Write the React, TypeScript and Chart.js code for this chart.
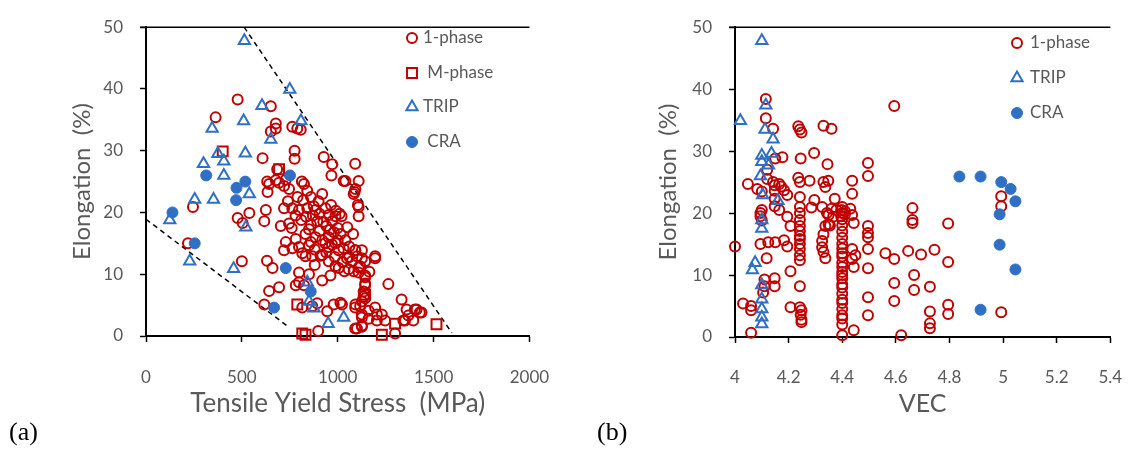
import React, { useEffect, useRef } from 'react';
import { Chart, registerables } from 'chart.js';

Chart.register(...registerables);

const RED = '#C00000';
const BLUE = '#2F6FC4';
const GRAY = '#595959';
const FONT = 'Lato, "Open Sans", sans-serif';

// ---------- Panel (a): Elongation vs Tensile Yield Stress ----------
const aXMin = 0;
const aXMax = 2000;
const aXStep = 500;
const elongMin = 0;
const elongMax = 50;
const elongStep = 10;

const aOnePhase: [number, number][] = [
  [478, 38.3], [651, 37.2], [363, 35.4], [677, 34.4], [677, 33.6], [651, 33.1], [763, 33.9], [789, 33.6], [807, 33.4],
  [775, 30.0], [775, 28.7], [608, 28.8], [927, 29.0], [971, 27.8], [1091, 27.9], [967, 26.0], [684, 27.0], [632, 25.0],
  [677, 25.2], [729, 25.3], [813, 25.0], [1040, 25.1], [1109, 25.1], [1088, 23.3], [1105, 21.2], [1109, 19.4], [642, 24.6],
  [634, 23.3], [694, 24.8], [720, 24.3], [746, 23.8], [824, 24.6], [841, 23.5], [919, 23.0],
  [245, 20.9], [219, 15.0], [478, 19.1], [504, 18.3], [539, 19.9], [625, 20.4], [617, 18.6], [703, 17.8], [746, 18.2],
  [500, 12.1], [631, 12.2], [660, 11.0], [642, 7.3], [694, 7.9], [617, 5.1],
  [798, 10.3], [850, 10.0], [798, 8.7], [824, 8.2], [781, 8.2], [893, 5.3], [867, 4.8], [815, 4.6], [945, 4.0], [979, 5.1], [898, 0.8],
  [720, 20.7], [763, 20.7], [798, 20.4], [841, 20.7], [884, 20.4], [936, 20.7], [953, 19.6], [988, 19.4], [971, 18.6], [893, 18.6],
  [850, 17.3], [832, 16.5], [781, 15.7], [729, 15.2], [720, 13.9], [763, 14.2], [798, 14.4], [815, 13.4], [850, 14.7], [884, 16.0],
  [919, 15.5], [953, 16.0], [953, 14.4], [988, 15.0], [1040, 15.5], [1005, 13.9], [919, 13.1], [867, 12.9], [832, 12.9], [1091, 13.9],
  [1100, 12.9], [1126, 13.9], [1143, 12.1], [1195, 12.9], [1074, 12.1], [1048, 12.6], [1109, 11.1], [1057, 10.8], [1109, 10.3],
  [953, 12.1], [988, 11.3], [962, 9.8], [919, 9.0], [1143, 9.5], [1143, 8.5], [1135, 7.2], [1264, 8.4], [1143, 6.1], [1126, 5.6],
  [1091, 4.6], [1126, 3.5], [1161, 4.1], [1195, 4.6], [1230, 3.5], [1333, 5.9], [1359, 4.3], [1402, 4.3], [1428, 3.8], [1368, 3.3],
  [1342, 2.5], [1247, 2.5], [1204, 2.5], [1161, 2.8], [1126, 1.5], [1091, 1.2], [1014, 5.4], [1109, 20.9],
  [1022, 5.1], [1092, 5.1], [1117, 4.8], [1204, 3.5], [1126, 3.0], [1100, 1.2], [1126, 1.7], [1411, 4.3], [1437, 3.8], [1351, 2.5],
  [1394, 2.5], [1143, 9.8], [1143, 8.2], [1135, 6.4], [1195, 12.6], [1126, 12.6], [1117, 11.3], [1092, 13.9], [1083, 10.5],
  [1083, 23.0], [1092, 23.8], [1031, 25.1], [1299, 0.4],
  [870, 19.5], [905, 19.8], [925, 18.5], [940, 17.8], [960, 17.2], [980, 16.8], [1000, 17.5], [1010, 19.8], [1020, 19.4], [990, 20.3],
  [965, 21.2], [900, 21.8], [875, 21.0], [860, 18.0], [905, 17.0], [935, 15.0], [970, 14.8], [1000, 15.5], [1030, 14.2], [1015, 16.5],
  [1060, 14.5], [1050, 17.6], [1080, 16.5], [880, 14.0], [910, 13.0], [940, 13.5], [985, 12.8], [1025, 12.0], [780, 19.5], [760, 17.5],
  [740, 21.8], [790, 22.5], [820, 22.0], [860, 22.5], [810, 18.8], [835, 19.3], [860, 15.2], [1060, 12.8], [1005, 11.0], [1035, 10.5],
  [1165, 10.4], [880, 11.5],
];

const aMPhase: [number, number][] = [
  [400, 29.9], [694, 27.0], [789, 5.1], [815, 0.4], [832, 0.2], [1143, 6.7], [1230, 0.2], [1299, 2.0], [1515, 1.9],
];

const aTRIP: [number, number][] = [
  [513, 47.8], [750, 39.9], [605, 37.3], [509, 34.8], [808, 34.8], [345, 33.6], [651, 31.8], [375, 29.5], [406, 28.3],
  [518, 29.6], [300, 27.9], [406, 26.0], [539, 23.0], [254, 22.1], [352, 22.1], [124, 18.8], [521, 17.6], [228, 12.1],
  [457, 10.9], [841, 8.7], [850, 5.6], [876, 4.5], [950, 2.0], [1031, 3.0],
];

const aCRA: [number, number][] = [
  [138, 20.0], [254, 15.0], [314, 26.0], [518, 25.0], [472, 24.0], [470, 22.0], [751, 26.0], [729, 11.0], [668, 4.6], [859, 7.2],
];

const aUpperBound: [number, number][] = [[512, 50], [1595, 0.5]];
const aLowerBound: [number, number][] = [[0, 18.9], [746, 1.4]];

// ---------- Panel (b): Elongation vs VEC ----------
const bXMin = 4;
const bXMax = 5.4;
const bXStep = 0.2;

const bOnePhase: [number, number][] = [
  [4.0, 14.6], [4.048, 24.7], [4.083, 23.9], [4.03, 5.4], [4.06, 5.0], [4.06, 4.3], [4.06, 0.7],
  [4.115, 38.4], [4.115, 35.3], [4.12, 27.0], [4.095, 20.0], [4.095, 19.5], [4.1, 20.5], [4.1, 23.5], [4.095, 15.0],
  [4.118, 12.7], [4.11, 9.3], [4.11, 8.2], [4.105, 7.2], [4.12, 25.5], [4.1, 18.8],
  [4.142, 33.6], [4.177, 29.0], [4.15, 28.8], [4.142, 25.0], [4.148, 24.5], [4.165, 24.7], [4.172, 24.3], [4.183, 23.7],
  [4.195, 22.9], [4.148, 23.6], [4.148, 22.3], [4.148, 21.1], [4.195, 19.4], [4.207, 17.9], [4.124, 15.3], [4.15, 15.3],
  [4.183, 15.6], [4.195, 14.6], [4.148, 9.5], [4.148, 8.2], [4.207, 10.6], [4.207, 4.8], [4.165, 20.5],
  [4.236, 34.0], [4.242, 33.5], [4.248, 33.0], [4.245, 28.8], [4.236, 25.7], [4.242, 25.0], [4.242, 22.6], [4.242, 21.0],
  [4.242, 20.0], [4.242, 18.9], [4.242, 17.9], [4.242, 17.1], [4.242, 16.3], [4.242, 15.8], [4.242, 15.0], [4.242, 14.2],
  [4.242, 13.2], [4.242, 12.4], [4.242, 8.2], [4.242, 4.8], [4.248, 4.3], [4.248, 2.8], [4.248, 2.4], [4.245, 3.6],
  [4.278, 25.2], [4.295, 29.7], [4.296, 22.1], [4.285, 20.9],
  [4.33, 34.1], [4.36, 33.6], [4.345, 27.9], [4.33, 25.0], [4.348, 25.2], [4.337, 24.2], [4.325, 21.0], [4.343, 20.0],
  [4.36, 20.7], [4.366, 19.4], [4.349, 19.7], [4.372, 22.3], [4.354, 18.0], [4.337, 17.9], [4.33, 16.6], [4.325, 15.5],
  [4.325, 14.5], [4.33, 13.7], [4.337, 12.7], [4.349, 18.2], [4.378, 20.5],
  [4.4, 21.0], [4.397, 20.5], [4.4, 20.0], [4.396, 19.5], [4.4, 19.0], [4.4, 18.0], [4.4, 17.0], [4.4, 16.0], [4.4, 15.0],
  [4.4, 14.3], [4.4, 13.5], [4.4, 13.0], [4.4, 12.0], [4.4, 11.3], [4.4, 10.5], [4.4, 10.0], [4.4, 9.5], [4.4, 8.5],
  [4.4, 8.0], [4.4, 7.0], [4.4, 6.0], [4.4, 5.5], [4.4, 4.5], [4.4, 3.5], [4.4, 3.0], [4.4, 2.0], [4.4, 0.3], [4.41, 19.8], [4.41, 20.3],
  [4.43, 20.7], [4.437, 19.7], [4.443, 18.4], [4.437, 25.2], [4.437, 23.1], [4.437, 14.2], [4.437, 12.6], [4.443, 11.3],
  [4.443, 1.1], [4.449, 13.2],
  [4.496, 28.1], [4.496, 26.0], [4.496, 17.9], [4.496, 16.8], [4.496, 16.1], [4.496, 14.2], [4.496, 11.1], [4.496, 6.4], [4.496, 3.5],
  [4.594, 37.3], [4.561, 13.5], [4.594, 12.6], [4.594, 8.7], [4.594, 5.8], [4.62, 0.3],
  [4.646, 13.9], [4.662, 20.8], [4.662, 18.9], [4.662, 18.4], [4.668, 10.0], [4.668, 7.6], [4.694, 13.3],
  [4.727, 8.1], [4.744, 14.1], [4.727, 4.1], [4.727, 2.2], [4.727, 1.4],
  [4.795, 18.3], [4.795, 12.1], [4.795, 5.2], [4.795, 3.7],
  [4.993, 22.7], [4.993, 21.1], [4.993, 4.0],
];

const bTRIP: [number, number][] = [
  [4.1, 47.8], [4.115, 37.4], [4.02, 34.9], [4.112, 33.5], [4.142, 31.9], [4.1, 29.3], [4.136, 29.6], [4.1, 28.3],
  [4.125, 27.7], [4.095, 26.0], [4.103, 22.9], [4.16, 22.0], [4.1, 18.9], [4.1, 17.5], [4.065, 10.8], [4.075, 12.0],
  [4.1, 8.4], [4.1, 6.1], [4.1, 4.5], [4.1, 3.2], [4.1, 2.1],
];

const bCRA: [number, number][] = [
  [4.837, 25.9], [4.916, 25.9], [4.993, 25.0], [5.028, 23.9], [5.046, 21.9], [4.987, 19.8], [4.987, 14.9], [5.046, 10.9], [4.916, 4.4],
];

const titleYieldX = 'Tensile Yield Stress  (MPa)';
const titleVEC = 'VEC';
const titleElong = 'Elongation  (%)';

type LegendItem = { label: string; style: 'circle' | 'rect' | 'triangle' | 'dot' };
const aLegend: LegendItem[] = [
  { label: '1-phase', style: 'circle' },
  { label: ' M-phase', style: 'rect' },
  { label: 'TRIP', style: 'triangle' },
  { label: ' CRA', style: 'dot' },
];
const bLegend: LegendItem[] = [
  { label: '1-phase', style: 'circle' },
  { label: 'TRIP', style: 'triangle' },
  { label: 'CRA', style: 'dot' },
];

const toPts = (arr: [number, number][]) => arr.map(([x, y]) => ({ x, y }));

const seriesStyles = {
  circle: { pointStyle: 'circle', pointRadius: 5, borderWidth: 2, borderColor: RED, backgroundColor: 'rgba(0,0,0,0)' },
  rect: { pointStyle: 'rect', pointRadius: 7, borderWidth: 2, borderColor: RED, backgroundColor: 'rgba(0,0,0,0)' },
  triangle: { pointStyle: 'triangle', pointRadius: 6.5, borderWidth: 2, borderColor: BLUE, backgroundColor: 'rgba(0,0,0,0)' },
  dot: { pointStyle: 'circle', pointRadius: 5.5, borderWidth: 1, borderColor: BLUE, backgroundColor: BLUE },
};

function drawMarker(ctx: CanvasRenderingContext2D, style: LegendItem['style'], x: number, y: number) {
  const s = (seriesStyles as any)[style];
  ctx.save();
  ctx.lineWidth = s.borderWidth;
  ctx.strokeStyle = s.borderColor;
  ctx.fillStyle = s.backgroundColor;
  ctx.beginPath();
  const r = s.pointRadius;
  if (style === 'circle' || style === 'dot') {
    ctx.arc(x, y, r, 0, Math.PI * 2);
  } else if (style === 'rect') {
    const h = r * Math.SQRT1_2;
    ctx.rect(x - h, y - h, 2 * h, 2 * h);
  } else {
    let rad = 0;
    const third = (2 * Math.PI) / 3;
    ctx.moveTo(x + Math.sin(rad) * r, y - Math.cos(rad) * r);
    rad += third;
    ctx.lineTo(x + Math.sin(rad) * r, y - Math.cos(rad) * r);
    rad += third;
    ctx.lineTo(x + Math.sin(rad) * r, y - Math.cos(rad) * r);
    ctx.closePath();
  }
  ctx.fill();
  ctx.stroke();
  ctx.restore();
}

function makeOverlay(items: LegendItem[], markerX: number, textX: number, rowYs: number[]) {
  return {
    id: 'overlay',
    afterDraw(chart: any) {
      const ctx: CanvasRenderingContext2D = chart.ctx;
      const area = chart.chartArea;
      ctx.save();
      ctx.strokeStyle = '#000';
      ctx.lineWidth = 1.5;
      ctx.beginPath();
      ctx.moveTo(area.left - 6, area.top);
      ctx.lineTo(area.right, area.top);
      ctx.stroke();
      ctx.restore();
      items.forEach((it, i) => {
        drawMarker(ctx, it.style, markerX, rowYs[i]);
        ctx.save();
        ctx.fillStyle = GRAY;
        ctx.font = `17px ${FONT}`;
        ctx.textBaseline = 'middle';
        ctx.textAlign = 'left';
        ctx.fillText(it.label, textX, rowYs[i]);
        ctx.restore();
      });
    },
  };
}

function scatterSet(label: string, data: [number, number][], style: keyof typeof seriesStyles) {
  return { label, data: toPts(data), clip: false, ...(seriesStyles as any)[style] };
}

function boundSet(label: string, data: [number, number][]) {
  return {
    label,
    data: toPts(data),
    showLine: true,
    pointRadius: 0,
    borderColor: '#000',
    borderWidth: 1.5,
    borderDash: [5, 4],
    clip: false,
  };
}

function baseScales(opts: {
  xMin: number; xMax: number; xStep: number; xTitle: string; xTitleSize: number;
  yAxisWidth: number; xAxisHeight: number; yTitleOffset: number; xTickPad: number;
  fmt: (v: number) => string;
}) {
  const grid = {
    display: true,
    drawOnChartArea: false,
    drawTicks: true,
    tickLength: 6,
    tickColor: '#000',
    tickWidth: 1.5,
  };
  const xTitleHalf = (opts.xTitleSize * 1.2) / 2;
  return {
    x: {
      type: 'linear',
      min: opts.xMin,
      max: opts.xMax,
      border: { display: true, color: '#000', width: 2 },
      grid,
      ticks: {
        stepSize: opts.xStep,
        autoSkip: false,
        maxRotation: 0,
        padding: opts.xTickPad,
        color: GRAY,
        font: { family: FONT, size: 17 },
        callback: (v: number) => opts.fmt(v),
      },
      title: {
        display: true,
        text: opts.xTitle,
        color: GRAY,
        font: { family: FONT, size: opts.xTitleSize },
        padding: { top: 0, bottom: 45 - xTitleHalf },
      },
      afterFit: (s: any) => { s.height = opts.xAxisHeight; },
    },
    y: {
      type: 'linear',
      min: elongMin,
      max: elongMax,
      border: { display: true, color: '#000', width: 2 },
      grid,
      ticks: {
        stepSize: elongStep,
        padding: 17,
        color: GRAY,
        font: { family: FONT, size: 17 },
      },
      title: {
        display: true,
        text: titleElong,
        color: GRAY,
        font: { family: FONT, size: 24 },
        padding: { top: opts.yTitleOffset, bottom: 0 },
      },
      afterFit: (s: any) => { s.width = opts.yAxisWidth; },
    },
  };
}

function ChartCanvas({ config, width, height, left }: { config: any; width: number; height: number; left: number }) {
  const ref = useRef<HTMLCanvasElement | null>(null);
  useEffect(() => {
    if (!ref.current) return;
    const chart = new Chart(ref.current, config);
    return () => chart.destroy();
  }, []);
  return (
    <canvas
      ref={ref}
      width={width}
      height={height}
      style={{ position: 'absolute', left, top: 0, width, height }}
    />
  );
}

export default function App() {
  const configA = {
    type: 'scatter',
    data: {
      datasets: [
        scatterSet('CRA', aCRA, 'dot'),
        scatterSet('TRIP', aTRIP, 'triangle'),
        scatterSet('M-phase', aMPhase, 'rect'),
        scatterSet('1-phase', aOnePhase, 'circle'),
        boundSet('upper', aUpperBound),
        boundSet('lower', aLowerBound),
      ],
    },
    options: {
      responsive: false,
      animation: false,
      events: [],
      layout: { padding: { left: 0, top: 15, right: 43, bottom: 0 } },
      plugins: { legend: { display: false }, tooltip: { enabled: false } },
      scales: baseScales({
        xMin: aXMin, xMax: aXMax, xStep: aXStep, xTitle: titleYieldX, xTitleSize: 26,
        yAxisWidth: 146, xAxisHeight: 113, yTitleOffset: 67.6, xTickPad: 25.8,
        fmt: (v) => String(v),
      }),
    },
    plugins: [makeOverlay(aLegend, 412, 423, [38, 73, 107, 142])],
  };

  const configB = {
    type: 'scatter',
    data: {
      datasets: [
        scatterSet('CRA', bCRA, 'dot'),
        scatterSet('TRIP', bTRIP, 'triangle'),
        scatterSet('1-phase', bOnePhase, 'circle'),
      ],
    },
    options: {
      responsive: false,
      animation: false,
      events: [],
      layout: { padding: { left: 0, top: 19, right: 17, bottom: 0 } },
      plugins: { legend: { display: false }, tooltip: { enabled: false } },
      scales: baseScales({
        xMin: bXMin, xMax: bXMax, xStep: bXStep, xTitle: titleVEC, xTitleSize: 25,
        yAxisWidth: 160, xAxisHeight: 112, yTitleOffset: 78.6, xTickPad: 24.8,
        fmt: (v) => String(Math.round(v * 10) / 10),
      }),
    },
    plugins: [makeOverlay(bLegend, 442, 455, [43, 78, 113])],
  };

  const panelLabel: React.CSSProperties = {
    position: 'absolute',
    top: 419,
    fontFamily: '"Liberation Serif", "Times New Roman", serif',
    fontSize: 26,
    lineHeight: '26px',
    color: '#000',
  };

  return (
    <div style={{ position: 'absolute', left: 0, top: 0, width: 1147, height: 449, background: '#fff', overflow: 'hidden' }}>
      <ChartCanvas config={configA} width={575} height={449} left={0} />
      <ChartCanvas config={configB} width={572} height={449} left={575} />
      <div style={{ ...panelLabel, left: 9 }}>(a)</div>
      <div style={{ ...panelLabel, left: 597 }}>(b)</div>
    </div>
  );
}
